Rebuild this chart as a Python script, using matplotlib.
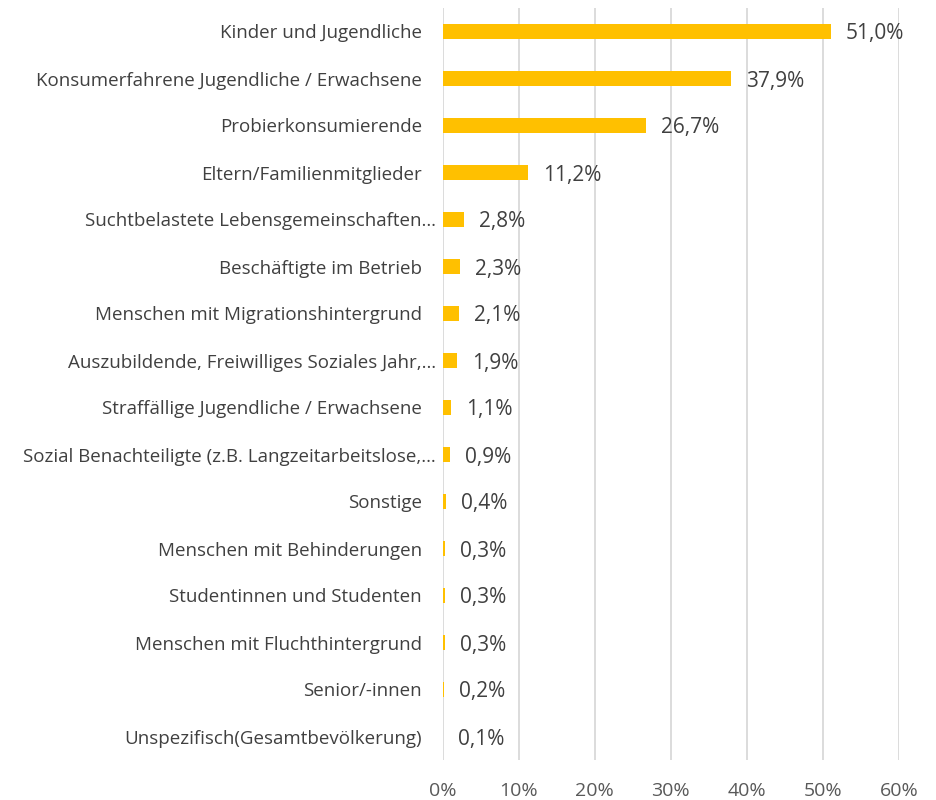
import matplotlib
matplotlib.use("Agg")
import matplotlib.pyplot as plt
from matplotlib.transforms import ScaledTranslation
from matplotlib.ticker import FuncFormatter

categories = [
    "Kinder und Jugendliche",
    "Konsumerfahrene Jugendliche / Erwachsene",
    "Probierkonsumierende",
    "Eltern/Familienmitglieder",
    "Suchtbelastete Lebensgemeinschaften…",
    "Beschäftigte im Betrieb",
    "Menschen mit Migrationshintergrund",
    "Auszubildende, Freiwilliges Soziales Jahr,…",
    "Straffällige Jugendliche / Erwachsene",
    "Sozial Benachteiligte (z.B. Langzeitarbeitslose,…",
    "Sonstige",
    "Menschen mit Behinderungen",
    "Studentinnen und Studenten",
    "Menschen mit Fluchthintergrund",
    "Senior/-innen",
    "Unspezifisch(Gesamtbevölkerung)",
]
values = [51.0, 37.9, 26.7, 11.2, 2.8, 2.3, 2.1, 1.9, 1.1, 0.9, 0.4, 0.3, 0.3, 0.3, 0.2, 0.1]
xticks = [0, 10, 20, 30, 40, 50, 60]

plt.rcParams['font.family'] = ['Open Sans', 'DejaVu Sans']
fig = plt.figure(figsize=(9.36, 8), dpi=100)
ax = fig.add_axes([442.7/936, 1-760/800, (899-442.7)/936, 752/800])

y = list(range(len(categories)))
ax.barh(y, values, height=0.34, color="#FFC000", zorder=3)
ax.set_ylim(len(categories)-0.5, -0.5)
ax.set_xlim(0, 60)
ax.set_xticks(xticks)
ax.xaxis.set_major_formatter(FuncFormatter(lambda v, p: f"{int(v)}%"))
ax.grid(axis="x", color="#D9D9D9", linewidth=1.3, zorder=0)
for s in ax.spines.values():
    s.set_visible(False)
ax.tick_params(axis="both", length=0)
ax.tick_params(axis="x", pad=16, labelsize=14, labelcolor="#595959")
ax.set_yticks(y)
ax.set_yticklabels(categories, fontsize=13.5, color="#404040")
ax.tick_params(axis="y", pad=15)

for lbl in ax.get_yticklabels():
    if lbl.get_text().endswith("…"):
        lbl.set_transform(lbl.get_transform() + ScaledTranslation(14/100, 0, fig.dpi_scale_trans))

for yi, v in zip(y, values):
    ax.annotate(f"{v:.1f}%".replace(".", ","), (v, yi), xytext=(15, 0),
                textcoords="offset pixels", va="center_baseline", ha="left",
                fontsize=15, color="#404040")

fig.savefig("out.png", dpi=100)
